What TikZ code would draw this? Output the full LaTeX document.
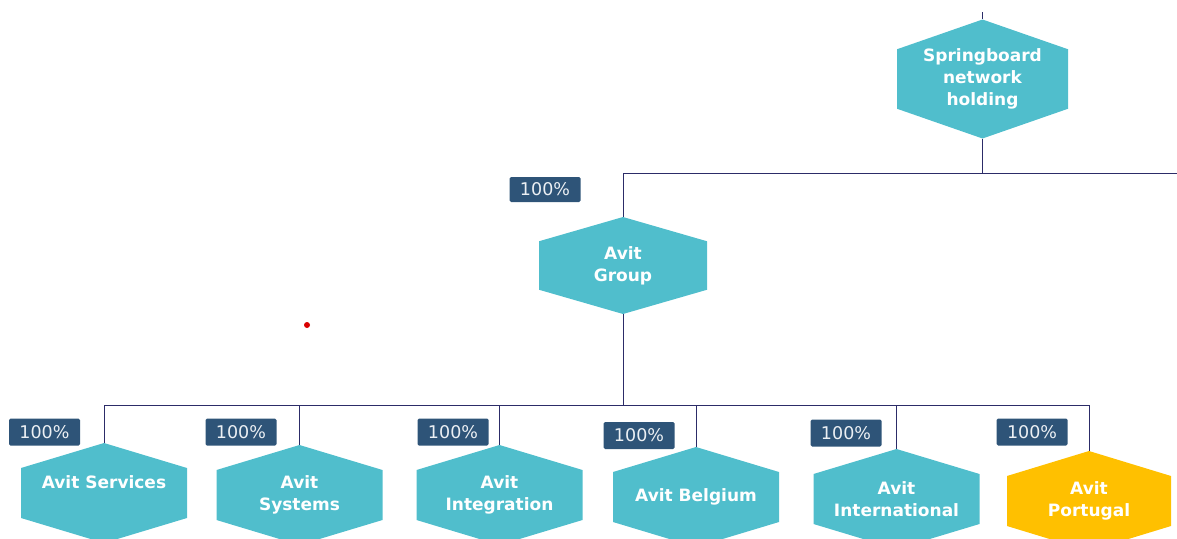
\documentclass[tikz,border=0pt]{standalone}
\usepackage{fontspec}
\setmainfont{DejaVu Sans}
\usetikzlibrary{calc}
\definecolor{hexteal}{RGB}{80,190,204}
\definecolor{hexgold}{RGB}{255,192,0}
\definecolor{pctblue}{RGB}{46,84,120}
\definecolor{pcttext}{RGB}{236,240,244}
\definecolor{linknavy}{RGB}{44,44,104}
\tikzset{
  hex/.style={minimum width=166pt, minimum height=100pt, inner sep=0pt,
    align=center, text=white, font=\fontsize{17}{22}\selectfont\bfseries,
    path picture={\fill[#1] (path picture bounding box.north)
      -- ($(path picture bounding box.north east)!0.5!(path picture bounding box.east)$)
      -- ($(path picture bounding box.south east)!0.5!(path picture bounding box.east)$)
      -- (path picture bounding box.south)
      -- ($(path picture bounding box.south west)!0.5!(path picture bounding box.west)$)
      -- ($(path picture bounding box.north west)!0.5!(path picture bounding box.west)$)
      -- cycle;}},
  hex/.default=hexteal,
  pct/.style={fill=pctblue, text=pcttext, rounded corners=1.5pt,
    minimum width=71pt, minimum height=27pt, inner sep=0pt,
    font=\fontsize{17.5}{20}\selectfont},
  link/.style={draw=linknavy, line width=1pt}
}
\begin{document}
\begin{tikzpicture}[x=1pt, y=-1pt]
    \useasboundingbox (0,0) rectangle (1177,538);
    \clip (0,0) rectangle (1177,538);
    % holding and group
    \node[hex, minimum width=171pt, minimum height=119pt] (spring) at (982.5,79)
        {Springboard\\network\\holding};
    \node[hex, minimum width=168pt, minimum height=97pt] (group) at (623,265.5)
        {Avit\\Group};
    \node[pct, minimum height=25pt] (pgroup) at (545,189.5) {100\%};
    % subsidiaries
    \node[hex] (services) at (104,493) {Avit Services\\\mbox{}};
    \node[hex] (systems) at (299.5,495) {Avit\\Systems};
    \node[hex] (integration) at (499.5,495) {Avit\\Integration};
    \node[hex] (belgium) at (696,497) {Avit Belgium};
    \node[hex] (international) at (896.5,499) {Avit\\International};
    \node[hex=hexgold, minimum width=164pt] (portugal) at (1089,501) {Avit\\Portugal};
    \node[pct] (pservices) at (44.5,432) {100\%};
    \node[pct] (psystems) at (241,432) {100\%};
    \node[pct] (pintegration) at (453,432) {100\%};
    \node[pct] (pbelgium) at (639,435.5) {100\%};
    \node[pct] (pinternational) at (846,433) {100\%};
    \node[pct] (pportugal) at (1032,432) {100\%};
    % connectors
    \coordinate (top) at (982.5,12);
    \coordinate (edge) at (1177,173);
    \draw[link] (top) -- (spring.north);
    \draw[link] (spring.south) -- (spring.south |- edge);
    \draw[link] (group.north) |- (edge);
    \draw[link] (group.south) -- ++(0,91) coordinate (bar);
    \draw[link] (services.north) |- (bar) -| (portugal.north);
    \foreach \n in {systems,integration,belgium,international}
        \draw[link] (\n.north) -- (\n.north |- bar);
    \fill[red!85!black] (307,325) circle (3pt);
\end{tikzpicture}
\end{document}
